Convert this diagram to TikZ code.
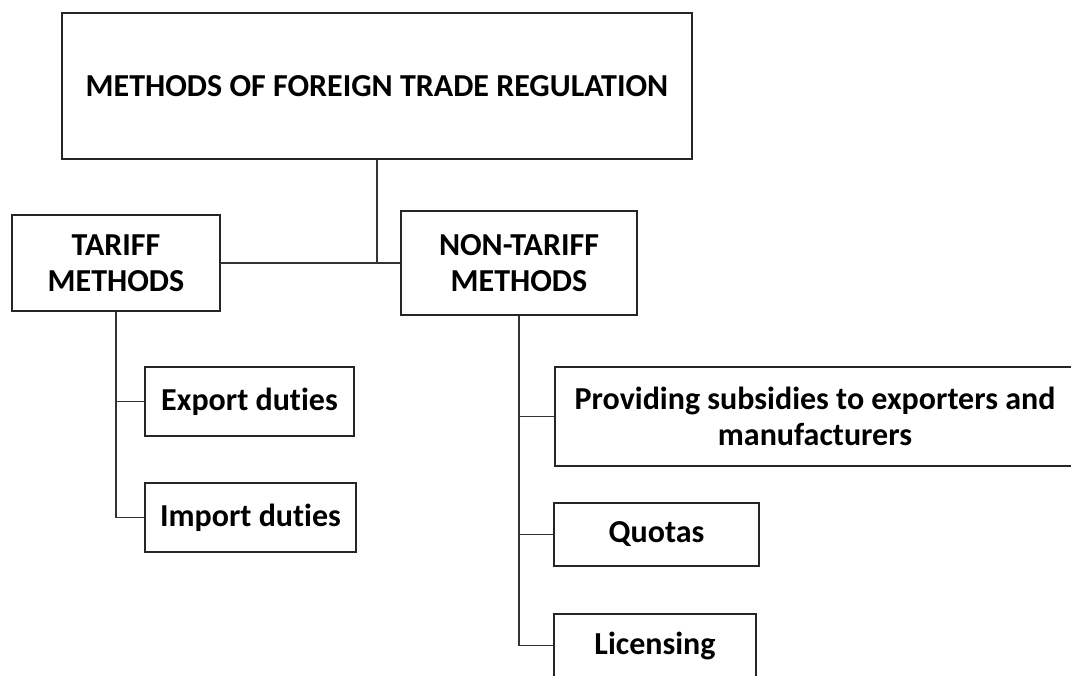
\documentclass[tikz,border=0pt]{standalone}
\usepackage{fontspec}
\setmainfont{Carlito}[Ligatures=NoCommon]

\begin{document}
\begin{tikzpicture}
[x=1pt,y=-1pt,line width=2pt,
 box/.style={draw=black!85,fill=white,inner sep=0pt,align=center,
   font=\bfseries\fontsize{32}{36}\selectfont},
 link/.style={draw=black!80,line width=1.8pt}]

\useasboundingbox (0,0) rectangle (1071,675);
\clip (0,0) rectangle (1071,675);

\node[box,minimum width=630,minimum height=146] (title) at (377,86)
  {METHODS OF FOREIGN TRADE REGULATION};

\node[box,minimum width=208,minimum height=96] (tariff) at (116,263) {TARIFF\\METHODS};
\node[box,minimum width=236,minimum height=104] (nontariff) at (519,263) {NON-TARIFF\\METHODS};

\node[box,minimum width=209,minimum height=69] (export) at (249.5,401.5) {Export duties};
\node[box,minimum width=211,minimum height=69] (import) at (250.5,517.5) {Import duties};

\node[box,minimum width=520,minimum height=99] (subsidies) at (815,416.5)
  {Providing subsidies to exporters and\\manufacturers};
\node[box,minimum width=205,minimum height=63] (quotas) at (656.5,534.5) {Quotas};
\node[box,minimum width=202,minimum height=63] (licensing) at (655,645.5) {Licensing};

\draw[link] (title.south) -- (title.south |- tariff.east); %trunk
\draw[link] (tariff.east) -- (nontariff.west |- tariff.east); %crossbar

\draw[link] (tariff.south) |- (import.west); %tariff branch
\draw[link] (tariff.south |- export.west) -- (export.west);

\draw[link] (nontariff.south) |- (licensing.west); %non-tariff branch
\draw[link] (nontariff.south |- subsidies.west) -- (subsidies.west);
\draw[link] (nontariff.south |- quotas.west) -- (quotas.west);

\end{tikzpicture}
\end{document}
